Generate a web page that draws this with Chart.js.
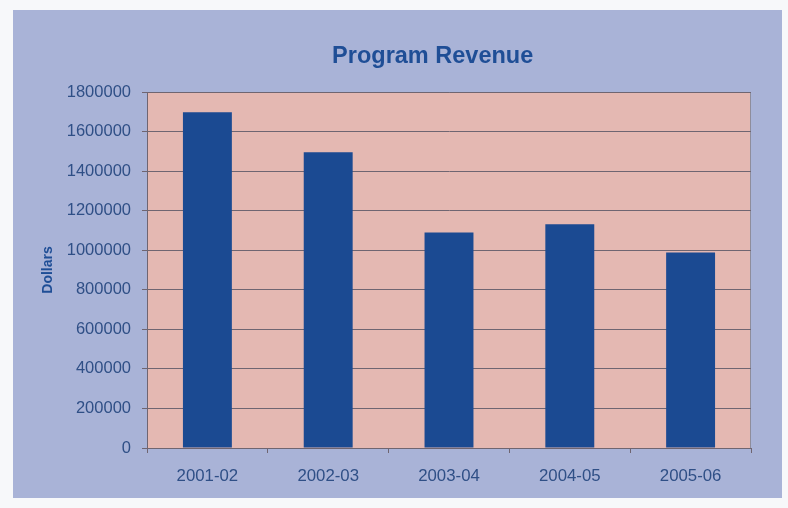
<!DOCTYPE html>
<html>
<head>
<meta charset="utf-8">
<script src="https://cdn.jsdelivr.net/npm/chart.js@4/dist/chart.umd.min.js"></script>
<style>
  html, body { margin: 0; padding: 0; background: #f7f8fa; }
  #wrap { position: relative; width: 788px; height: 508px; }
  #panel { position: absolute; left: 13px; top: 10px; width: 769px; height: 488px; background: #a9b3d7; }
  #chart { position: absolute; left: 0; top: 0; }
</style>
</head>
<body>
<div id="wrap">
  <div id="panel"></div>
  <canvas id="chart" width="788" height="508"></canvas>
</div>
<script>
// Program revenue per fiscal year, in dollars
const fiscalYears = ['2001-02', '2002-03', '2003-04', '2004-05', '2005-06'];
const revenue = [1697000, 1495000, 1090000, 1131000, 988000];
const yAxisMax = 1800000;
const yAxisStep = 200000;

const TEXT = '#2f4f86';
const TITLE = '#1f4e96';
const GRID = '#6f6571';
const FONT = 'Liberation Sans, Arial, sans-serif';

// Salmon plot background with a thin grey frame
const plotBackground = {
  id: 'plotBackground',
  beforeDraw(chart) {
    const { ctx, chartArea: a } = chart;
    ctx.save();
    ctx.fillStyle = '#e4b8b2';
    ctx.fillRect(a.left, a.top, a.right - a.left, a.bottom - a.top);
    ctx.strokeStyle = '#8e8d9c';
    ctx.lineWidth = 1;
    ctx.strokeRect(a.left + 0.5, a.top + 0.5, a.right - a.left - 1, a.bottom - a.top);
    ctx.restore();
  }
};

new Chart(document.getElementById('chart'), {
  type: 'bar',
  data: {
    labels: fiscalYears,
    datasets: [{
      data: revenue,
      backgroundColor: '#1b4a92',
      borderWidth: 0,
      categoryPercentage: 1,
      barPercentage: 0.405
    }]
  },
  options: {
    responsive: false,
    animation: false,
    events: [],
    layout: { padding: { left: 20, right: 37, top: 30, bottom: 10 } },
    plugins: {
      legend: { display: false },
      tooltip: { enabled: false },
      title: {
        display: true,
        text: 'Program Revenue     ',
        color: TITLE,
        fullSize: false,
        font: { family: FONT, size: 23.5, weight: 'bold' },
        padding: { top: 12.5, bottom: 21.3 }
      }
    },
    scales: {
      x: {
        offset: true,
        grid: { display: true, drawOnChartArea: false, drawTicks: true, tickLength: 5, color: GRID, offset: true },
        border: { display: true, color: GRID, width: 1 },
        ticks: {
          color: TEXT,
          padding: 13,
          maxRotation: 0,
          font: { family: FONT, size: 16.8 }
        },
        afterFit(scale) { scale.height = 50; }
      },
      y: {
        min: 0,
        max: yAxisMax,
        grid: { color: GRID, tickLength: 5, drawTicks: true },
        border: { display: true, color: GRID, width: 1 },
        ticks: {
          stepSize: yAxisStep,
          color: TEXT,
          padding: 11,
          font: { family: FONT, size: 16.5 }
        ,
          callback: (v) => String(v)
        },
        title: {
          display: true,
          text: 'Dollars',
          color: TITLE,
          font: { family: FONT, size: 14, weight: 'bold' },
          padding: { top: 20, bottom: 0 }
        },
        afterFit(scale) { scale.width = 127; }
      }
    }
  },
  plugins: [plotBackground]
});
</script>
</body>
</html>
